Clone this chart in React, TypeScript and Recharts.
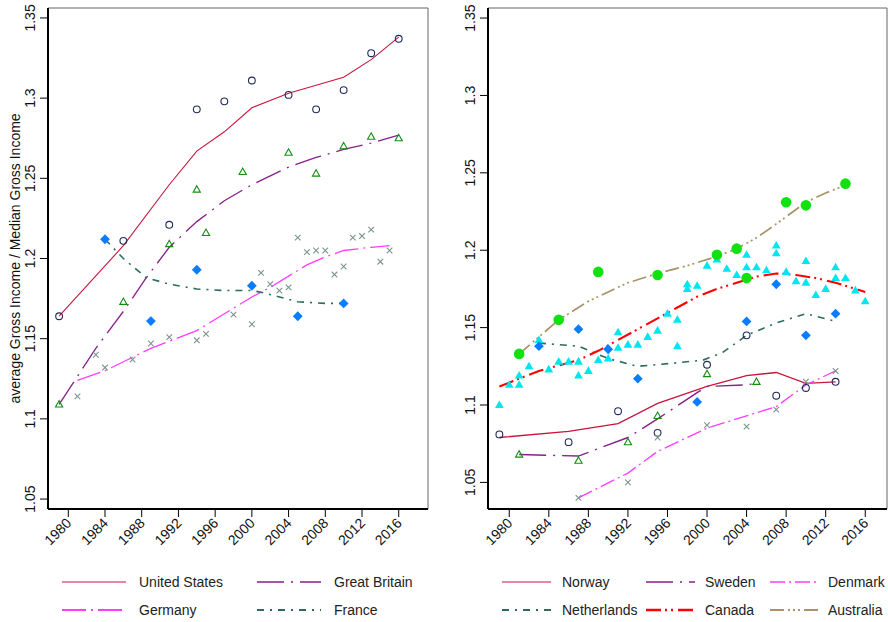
import React from 'react';
import { ComposedChart, Line, Scatter, XAxis, YAxis, ReferenceLine } from 'recharts';

const FONT = '"Liberation Sans", Arial, Helvetica, sans-serif';

// ---------- axes ----------
const xTicks = [1980, 1984, 1988, 1992, 1996, 2000, 2004, 2008, 2012, 2016];
const yTicks = [1.05, 1.1, 1.15, 1.2, 1.25, 1.3, 1.35];
const yTickLabels = ['1.05', '1.1', '1.15', '1.2', '1.25', '1.3', '1.35'];
const yTitle = 'average Gross Income / Median Gross Income';

// ---------- left panel ----------
const usYears = [1979, 1986, 1991, 1994, 1997, 2000, 2004, 2007, 2010, 2013, 2016];
const usVals = [1.164, 1.211, 1.221, 1.293, 1.298, 1.311, 1.302, 1.293, 1.305, 1.328, 1.337];
const usFitYears = [1979, 1986, 1991, 1994, 1997, 2000, 2004, 2007, 2010, 2013, 2016];
const usFitVals = [1.164, 1.208, 1.246, 1.267, 1.279, 1.294, 1.303, 1.308, 1.313, 1.324, 1.338];

const gbYears = [1979, 1986, 1991, 1994, 1995, 1999, 2004, 2007, 2010, 2013, 2016];
const gbVals = [1.109, 1.173, 1.209, 1.243, 1.216, 1.254, 1.266, 1.253, 1.270, 1.276, 1.275];
const gbFitYears = [1979, 1983, 1986, 1988.5, 1991, 1994, 1997, 2000, 2004, 2007, 2010, 2013, 2016];
const gbFitVals = [1.109, 1.144, 1.167, 1.188, 1.207, 1.223, 1.236, 1.246, 1.257, 1.263, 1.268, 1.272, 1.277];

const deYears = [1981, 1983, 1984, 1987, 1989, 1991, 1994, 1995, 1998, 2000, 2001, 2002, 2003, 2004, 2005, 2006, 2007, 2008, 2009, 2010, 2011, 2012, 2013, 2014, 2015];
const deVals = [1.114, 1.140, 1.132, 1.137, 1.147, 1.151, 1.149, 1.153, 1.165, 1.159, 1.191, 1.184, 1.180, 1.182, 1.213, 1.204, 1.205, 1.205, 1.190, 1.195, 1.213, 1.214, 1.218, 1.198, 1.205];
const deFitYears = [1981, 1984, 1989, 1994, 1998, 2000, 2002, 2004, 2006, 2008, 2010, 2013, 2015];
const deFitVals = [1.124, 1.130, 1.144, 1.155, 1.169, 1.176, 1.182, 1.189, 1.196, 1.201, 1.205, 1.207, 1.208];

const frYears = [1984, 1989, 1994, 2000, 2005, 2010];
const frVals = [1.212, 1.161, 1.193, 1.183, 1.164, 1.172];
const frFitYears = [1984, 1986, 1988.5, 1991, 1994, 1997, 2000, 2001, 2003, 2005, 2008, 2010];
const frFitVals = [1.212, 1.200, 1.188, 1.184, 1.181, 1.180, 1.180, 1.179, 1.176, 1.173, 1.172, 1.172];

// ---------- right panel ----------
const noYears = [1979, 1986, 1991, 1995, 2000, 2004, 2007, 2010, 2013];
const noVals = [1.081, 1.076, 1.096, 1.082, 1.126, 1.145, 1.106, 1.111, 1.115];
const noFitYears = [1979, 1986, 1991, 1995, 2000, 2004, 2007, 2010, 2013];
const noFitVals = [1.079, 1.083, 1.088, 1.101, 1.112, 1.119, 1.121, 1.114, 1.115];

const seYears = [1981, 1987, 1992, 1995, 2000, 2005];
const seVals = [1.068, 1.064, 1.076, 1.093, 1.120, 1.115];
const seFitYears = [1981, 1987, 1992, 1995, 1999, 2000, 2004, 2005];
const seFitVals = [1.068, 1.067, 1.079, 1.091, 1.108, 1.112, 1.113, 1.114];

const dkYears = [1987, 1992, 1995, 2000, 2004, 2007, 2010, 2013];
const dkVals = [1.040, 1.050, 1.079, 1.087, 1.086, 1.097, 1.115, 1.122];
const dkFitYears = [1987, 1992, 1995, 2000, 2004, 2007, 2010, 2013];
const dkFitVals = [1.040, 1.056, 1.070, 1.085, 1.093, 1.099, 1.113, 1.122];

const nlYears = [1983, 1987, 1990, 1993, 1999, 2004, 2007, 2010, 2013];
const nlVals = [1.138, 1.149, 1.136, 1.117, 1.102, 1.154, 1.178, 1.145, 1.159];
const nlFitYears = [1983, 1987, 1990, 1993, 1996.6, 1999.6, 2001.6, 2004, 2007, 2010, 2013];
const nlFitVals = [1.140, 1.138, 1.130, 1.125, 1.127, 1.129, 1.134, 1.145, 1.153, 1.159, 1.154];

const caYears = [1979, 1980, 1981, 1981, 1982, 1983, 1984, 1985, 1986, 1987, 1987, 1988, 1989, 1990, 1991, 1991, 1992, 1993, 1994, 1995, 1996, 1997, 1997, 1998, 1998, 1999, 2000, 2001, 2002, 2003, 2004, 2004, 2005, 2006, 2007, 2007, 2008, 2009, 2010, 2010, 2011, 2012, 2013, 2013, 2014, 2015, 2016];
const caVals = [1.100, 1.113, 1.113, 1.119, 1.125, 1.142, 1.123, 1.128, 1.128, 1.128, 1.119, 1.122, 1.129, 1.130, 1.147, 1.137, 1.139, 1.139, 1.144, 1.148, 1.159, 1.155, 1.138, 1.178, 1.175, 1.177, 1.190, 1.194, 1.188, 1.184, 1.197, 1.189, 1.189, 1.187, 1.203, 1.198, 1.186, 1.180, 1.193, 1.179, 1.171, 1.175, 1.189, 1.182, 1.182, 1.174, 1.167];
const caFitYears = [1979, 1983, 1987, 1989, 1991, 1993, 1995, 1997, 1999, 2001, 2003, 2005, 2007, 2009, 2011, 2013, 2016];
const caFitVals = [1.112, 1.122, 1.129, 1.135, 1.142, 1.149, 1.156, 1.163, 1.170, 1.175, 1.179, 1.183, 1.185, 1.184, 1.182, 1.179, 1.173];

const auYears = [1981, 1985, 1989, 1995, 2001, 2003, 2004, 2008, 2010, 2014];
const auVals = [1.133, 1.155, 1.186, 1.184, 1.197, 1.201, 1.182, 1.231, 1.229, 1.243];
const auFitYears = [1981, 1985, 1988, 1992, 1995, 1998, 2001, 2003, 2005, 2007, 2010, 2012, 2014];
const auFitVals = [1.133, 1.155, 1.167, 1.179, 1.185, 1.190, 1.196, 1.201, 1.208, 1.217, 1.231, 1.237, 1.242];

const toPts = (xs: number[], ys: number[]) => xs.map((x, i) => ({ x, y: ys[i] }));

// ---------- styles ----------
const C = {
  crimson: '#c8153c',
  purple: '#862088',
  magenta: '#ff3cff',
  teal: '#2e6b5e',
  red: '#ff0000',
  tan: '#a89466',
  navy: '#1f2a5a',
  green: '#148c14',
  gray: '#7b958b',
  blue: '#0a7dff',
  lime: '#11e011',
  cyan: '#00e6ef',
};

const DASH = {
  solid: undefined as string | undefined,
  longDashDot: '27 7 2 7',
  dashDot: '24 5 2 5',
  shortDashDot: '7 6 2 6',
  dkDashDot: '15 4 2 4',
  dashDotDot: '15 4 2 4 2 5',
  dashDotDotDot: '14 4 2 3 2 3 2 4',
};

// ---------- markers ----------
const openCircle = (color: string) => (p: any) =>
  p.cx == null ? <g /> : <circle cx={p.cx} cy={p.cy} r={3.4} fill="none" stroke={color} strokeWidth={1.1} />;
const openTriangle = (color: string) => (p: any) =>
  p.cx == null ? <g /> : (
    <path d={`M${p.cx},${p.cy - 3.8} L${p.cx + 3.6},${p.cy + 2.6} L${p.cx - 3.6},${p.cy + 2.6} Z`} fill="none" stroke={color} strokeWidth={1.1} />
  );
const xMark = (color: string) => (p: any) =>
  p.cx == null ? <g /> : (
    <path d={`M${p.cx - 2.8},${p.cy - 2.8} L${p.cx + 2.8},${p.cy + 2.8} M${p.cx - 2.8},${p.cy + 2.8} L${p.cx + 2.8},${p.cy - 2.8}`} stroke={color} strokeWidth={1.1} />
  );
const diamond = (color: string) => (p: any) =>
  p.cx == null ? <g /> : (
    <path d={`M${p.cx},${p.cy - 4.9} L${p.cx + 4.9},${p.cy} L${p.cx},${p.cy + 4.9} L${p.cx - 4.9},${p.cy} Z`} fill={color} />
  );
const filledCircle = (color: string) => (p: any) =>
  p.cx == null ? <g /> : <circle cx={p.cx} cy={p.cy} r={5.3} fill={color} />;
const filledTriangle = (color: string) => (p: any) =>
  p.cx == null ? <g /> : (
    <path d={`M${p.cx},${p.cy - 4.6} L${p.cx + 4.4},${p.cy + 3.0} L${p.cx - 4.4},${p.cy + 3.0} Z`} fill={color} />
  );

// ---------- series definitions ----------
const leftFits = [
  { key: 'us', data: toPts(usFitYears, usFitVals), color: C.crimson, dash: DASH.solid, w: 1.1 },
  { key: 'gb', data: toPts(gbFitYears, gbFitVals), color: C.purple, dash: DASH.longDashDot, w: 1.3 },
  { key: 'de', data: toPts(deFitYears, deFitVals), color: C.magenta, dash: DASH.dashDot, w: 1.3 },
  { key: 'fr', data: toPts(frFitYears, frFitVals), color: C.teal, dash: DASH.shortDashDot, w: 1.6 },
];
const leftPoints = [
  { key: 'us', data: toPts(usYears, usVals), shape: openCircle(C.navy) },
  { key: 'gb', data: toPts(gbYears, gbVals), shape: openTriangle(C.green) },
  { key: 'de', data: toPts(deYears, deVals), shape: xMark(C.gray) },
  { key: 'fr', data: toPts(frYears, frVals), shape: diamond(C.blue) },
];
const rightFits = [
  { key: 'no', data: toPts(noFitYears, noFitVals), color: C.crimson, dash: DASH.solid, w: 1.3 },
  { key: 'se', data: toPts(seFitYears, seFitVals), color: C.purple, dash: DASH.longDashDot, w: 1.4 },
  { key: 'dk', data: toPts(dkFitYears, dkFitVals), color: C.magenta, dash: DASH.dkDashDot, w: 1.3 },
  { key: 'nl', data: toPts(nlFitYears, nlFitVals), color: C.teal, dash: DASH.shortDashDot, w: 1.6 },
  { key: 'ca', data: toPts(caFitYears, caFitVals), color: C.red, dash: DASH.dashDotDot, w: 2.1 },
  { key: 'au', data: toPts(auFitYears, auFitVals), color: C.tan, dash: DASH.dashDotDotDot, w: 1.7 },
];
const rightPoints = [
  { key: 'ca', data: toPts(caYears, caVals), shape: filledTriangle(C.cyan) },
  { key: 'no', data: toPts(noYears, noVals), shape: openCircle(C.navy) },
  { key: 'se', data: toPts(seYears, seVals), shape: openTriangle(C.green) },
  { key: 'dk', data: toPts(dkYears, dkVals), shape: xMark(C.gray) },
  { key: 'nl', data: toPts(nlYears, nlVals), shape: diamond(C.blue) },
  { key: 'au', data: toPts(auYears, auVals), shape: filledCircle(C.lime) },
];

const leftLegend = [
  { name: 'United States', color: C.crimson, dash: DASH.solid, w: 1.2 },
  { name: 'Great Britain', color: C.purple, dash: DASH.longDashDot, w: 1.4 },
  { name: 'Germany', color: C.magenta, dash: DASH.dashDot, w: 2.2 },
  { name: 'France', color: C.teal, dash: DASH.shortDashDot, w: 1.8 },
];
const rightLegend = [
  { name: 'Norway', color: C.crimson, dash: DASH.solid, w: 1.2 },
  { name: 'Sweden', color: C.purple, dash: DASH.longDashDot, w: 1.4 },
  { name: 'Denmark', color: C.magenta, dash: DASH.dkDashDot, w: 1.4 },
  { name: 'Netherlands', color: C.teal, dash: DASH.shortDashDot, w: 1.8 },
  { name: 'Canada', color: C.red, dash: DASH.dashDotDot, w: 2.4 },
  { name: 'Australia', color: C.tan, dash: DASH.dashDotDotDot, w: 2.2 },
];

// ---------- ticks ----------
const XTick = (p: any) => (
  <g transform={`translate(${p.x + 4},${p.y + 7})`}>
    <text textAnchor="end" transform="rotate(-45)" fontSize={14} fontFamily={FONT} fill="#111">
      {p.payload.value}
    </text>
  </g>
);
const YTick = (p: any) => {
  const idx = yTicks.findIndex((t) => Math.abs(t - p.payload.value) < 1e-6);
  return (
    <g transform={`translate(${p.x - 5},${p.y})`}>
      <text textAnchor="middle" transform="rotate(-90)" fontSize={14} fontFamily={FONT} fill="#111">
        {idx >= 0 ? yTickLabels[idx] : p.payload.value}
      </text>
    </g>
  );
};
const YTitle = (p: any) => {
  const vb = p.viewBox || {};
  const cx = 19.5;
  const cy = (vb.y ?? 8) + (vb.height ?? 501) / 2;
  return (
    <text x={cx} y={cy} transform={`rotate(-90, ${cx}, ${cy})`} textAnchor="middle" fontSize={14} fontFamily={FONT} fill="#111">
      {yTitle}
    </text>
  );
};

type PanelProps = {
  width: number;
  marginRight: number;
  xDomain: [number, number];
  yDomain: [number, number];
  fits: any[];
  points: any[];
  title: boolean;
};

const Panel = ({ width, marginRight, xDomain, yDomain, fits, points, title }: PanelProps) => (
  <ComposedChart width={width} height={560} margin={{ top: 8, right: marginRight, bottom: 8, left: 0 }}>
    <XAxis
      type="number"
      dataKey="x"
      domain={xDomain}
      allowDataOverflow
      ticks={xTicks}
      interval={0}
      height={43}
      tickSize={8}
      tickMargin={0}
      tick={<XTick />}
      axisLine={{ stroke: '#000', strokeWidth: 2 }}
      tickLine={{ stroke: '#000', strokeWidth: 1 }}
    />
    <YAxis
      type="number"
      dataKey="y"
      domain={yDomain}
      allowDataOverflow
      ticks={yTicks}
      interval={0}
      width={48}
      tickSize={8}
      tickMargin={0}
      tick={<YTick />}
      axisLine={{ stroke: '#000', strokeWidth: 2 }}
      tickLine={{ stroke: '#000', strokeWidth: 1 }}
      label={title ? <YTitle /> : undefined}
    />
    <ReferenceLine y={yDomain[1]} stroke="#666" strokeWidth={1} />
    <ReferenceLine x={xDomain[1]} stroke="#666" strokeWidth={1} />
    {points.map((s) => (
      <Scatter key={'p' + s.key} data={s.data} dataKey="y" shape={s.shape} isAnimationActive={false} legendType="none" />
    ))}
    {fits.map((s) => (
      <Line
        key={'l' + s.key}
        data={s.data}
        dataKey="y"
        type="linear"
        stroke={s.color}
        strokeWidth={s.w}
        strokeDasharray={s.dash}
        dot={false}
        activeDot={false}
        isAnimationActive={false}
        legendType="none"
      />
    ))}
  </ComposedChart>
);

const LegendItem = ({ item, sx, tx, cy }: any) => (
  <>
    <svg style={{ position: 'absolute', left: sx, top: cy - 5 }} width={64} height={10}>
      <line x1={0} x2={item.len} y1={5} y2={5} stroke={item.color} strokeWidth={item.w} strokeDasharray={item.dash} />
    </svg>
    <div style={{ position: 'absolute', left: tx, top: cy - 8.6, fontSize: 14, lineHeight: '18px', fontFamily: FONT, color: '#222', whiteSpace: 'nowrap' }}>
      {item.name}
    </div>
  </>
);

export default function App() {
  const leftCols = [
    { sx: 62, tx: 139 },
    { sx: 257, tx: 334 },
  ];
  const rightCols = [
    { sx: 502, tx: 562 },
    { sx: 646, tx: 705 },
    { sx: 770, tx: 828 },
  ];
  const rows = [582, 610];
  return (
    <div style={{ position: 'absolute', left: 0, top: 0, width: 888, height: 622, background: '#fff', overflow: 'hidden' }}>
      <div style={{ position: 'absolute', left: 0, top: 0 }}>
        <Panel width={440} marginRight={12} xDomain={[1977.79, 2019.19]} yDomain={[1.0438, 1.3562]} fits={leftFits} points={leftPoints} title={true} />
      </div>
      <div style={{ position: 'absolute', left: 440, top: 0 }}>
        <Panel width={448} marginRight={1} xDomain={[1977.85, 2018.2]} yDomain={[1.0328, 1.3565]} fits={rightFits} points={rightPoints} title={false} />
      </div>
      {leftLegend.map((it, i) => (
        <LegendItem key={it.name} item={{ ...it, len: 64 }} sx={leftCols[i % 2].sx} tx={leftCols[i % 2].tx} cy={rows[Math.floor(i / 2)]} />
      ))}
      {rightLegend.map((it, i) => (
        <LegendItem key={it.name} item={{ ...it, len: 49 }} sx={rightCols[i % 3].sx} tx={rightCols[i % 3].tx} cy={rows[Math.floor(i / 3)]} />
      ))}
    </div>
  );
}
